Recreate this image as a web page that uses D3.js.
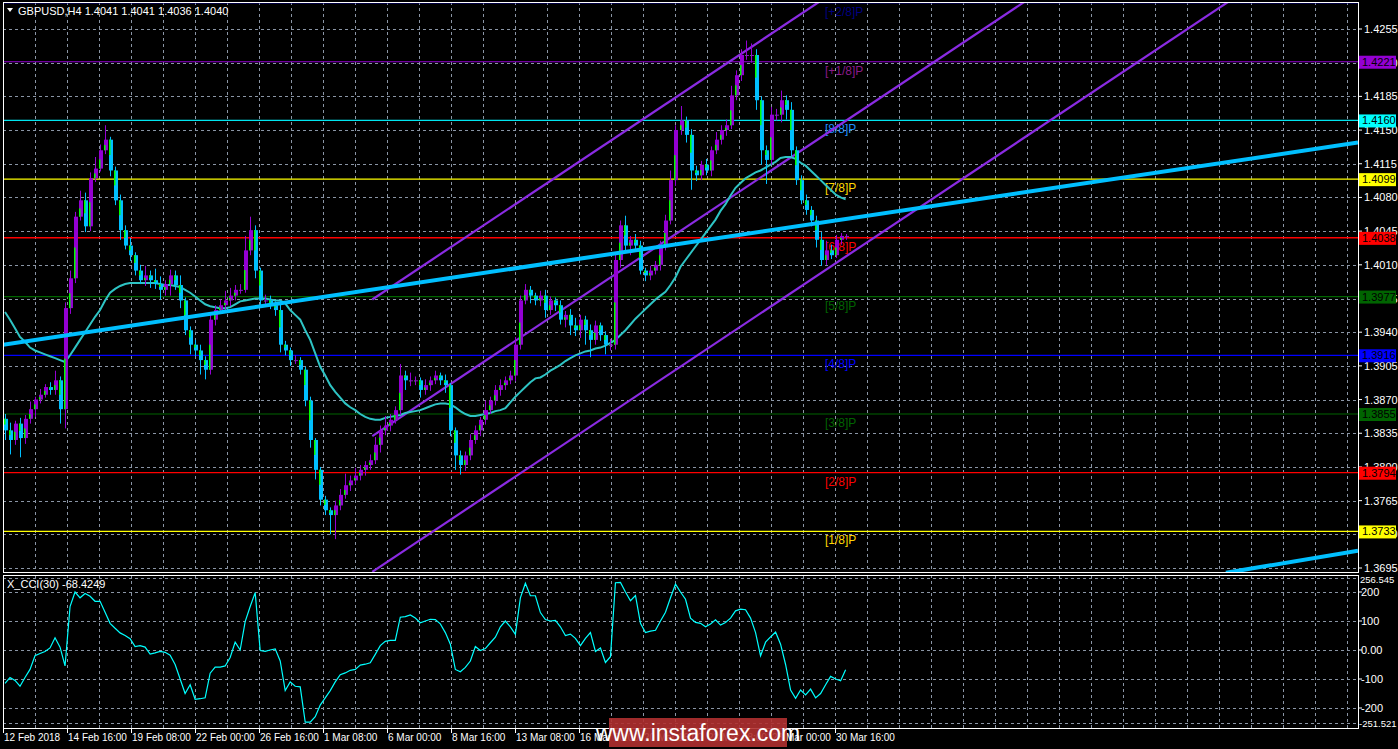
<!DOCTYPE html>
<html><head><meta charset="utf-8">
<script src="https://cdn.jsdelivr.net/npm/d3@7"></script>
<style>body{margin:0;background:#000}svg{display:block}text{font-family:"Liberation Sans",Arial,sans-serif}</style>
</head><body><svg id="c" width="1398" height="749"></svg>
<script>
// ---- data (prices in pips = price*10000) ----
const closesPips=[13838,13828,13845,13830,13850,13860,13870,13875,13883,13880,
13890,13860,13965,13996,14060,14077,14050,14100,14110,14129,
14140,14108,14077,14046,14030,14020,14004,13994,13999,13994,
13990,13984,13990,13999,13989,13973,13942,13927,13921,13911,
13901,13953,13963,13968,13973,13978,13984,13984,14025,14046,
14004,13973,13973,13968,13963,13927,13921,13911,13911,13901,
13869,13828,13797,13766,13755,13750,13760,13771,13781,13786,
13791,13797,13802,13807,13823,13838,13843,13849,13859,13895,
13890,13890,13890,13880,13885,13890,13895,13890,13885,13838,
13812,13802,13812,13828,13838,13849,13859,13869,13880,13885,
13890,13895,13927,13973,13984,13978,13973,13978,13963,13973,
13968,13953,13958,13947,13942,13953,13942,13932,13947,13937,
13927,13927,14015,14051,14030,14036,14030,14004,13999,14004,
14010,14030,14056,14098,14150,14160,14145,14108,14103,14114,
14108,14129,14140,14150,14155,14186,14207,14228,14228,14228,
14181,14129,14119,14166,14166,14181,14171,14129,14098,14077,
14067,14056,14036,14015,14025,14020,14036,14040,14040];
const upperWick=[5,8,3,6,4,8,3,6,3,5,10,4,6,8,5,10,8,6,12,6,15,3,4,6,5,8,3,6,10,5,12,8,4,6,5,10,3,4,5,6,
4,8,5,6,10,8,5,6,15,14,5,3,6,5,4,10,4,3,5,3,3,4,2,3,4,3,5,6,12,5,8,5,4,6,8,5,10,6,4,12,
5,8,4,3,6,4,5,3,6,2,3,5,4,6,5,3,10,4,5,6,4,5,8,5,6,4,3,5,6,4,3,5,4,6,8,5,4,6,5,3,
4,6,8,5,10,4,6,5,3,5,4,5,6,10,5,15,4,6,5,4,6,4,8,5,6,10,5,6,15,12,6,4,5,8,6,10,5,8,4,5,6,4,5,8,10,6,5,3,2];
const lowerWick=[10,15,5,20,6,5,8,4,3,5,5,15,20,6,5,4,6,5,4,3,4,6,5,10,4,6,5,4,6,8,5,10,6,12,5,8,5,10,6,15,
10,5,6,4,5,6,5,4,3,5,8,6,5,4,6,8,5,6,4,5,6,8,10,6,5,20,25,5,4,6,4,5,6,5,4,8,5,6,4,5,
10,6,5,8,5,6,4,5,8,6,15,10,6,5,4,6,5,4,5,6,5,4,6,5,4,8,5,6,8,5,6,5,8,10,6,8,15,18,5,6,
10,6,5,8,6,10,5,4,6,5,4,6,5,4,6,5,8,20,6,5,5,6,4,5,6,4,5,6,5,8,10,15,25,5,6,8,10,6,5,4,5,6,8,6,5,4,3,5,4];
const maPips=[13961,13953,13944,13935,13930,13924,13921,13919,13917,13915,13913,13911,13909,13916,13924,13932,13940,13948,13956,13963,
13973,13981,13985,13988,13990,13991,13991,13991,13991,13991,13991,13990,13989,13989,13988,13987,13984,13981,13977,13973,
13969,13967,13966,13965,13965,13966,13969,13972,13973,13974,13975,13975,13975,13974,13973,13973,13970,13963,13958,13953,
13942,13932,13918,13904,13895,13885,13878,13872,13866,13862,13859,13855,13852,13850,13849,13849,13851,13852,13853,13854,
13856,13857,13858,13859,13861,13863,13865,13866,13866,13865,13862,13858,13855,13853,13853,13854,13855,13856,13858,13859,
13861,13867,13873,13878,13883,13888,13892,13893,13896,13900,13903,13906,13910,13913,13916,13918,13920,13921,13923,13924,
13926,13929,13932,13937,13942,13948,13954,13959,13964,13969,13974,13978,13982,13989,13997,14008,14015,14022,14029,14036,
14043,14050,14057,14066,14073,14082,14090,14095,14100,14103,14106,14108,14111,14114,14117,14121,14122,14122,14120,14116,
14113,14108,14103,14098,14093,14088,14083,14080,14078];
const cciValues=[-115,-95,-105,-125,-95,-67,-20,-12,-5,7,42,10,-55,150,200,180,195,185,168,168,
130,92,75,59,50,39,12,15,10,-14,-10,-5,-8,-18,-50,-100,-150,-120,-170,-168,
-165,-80,-59,-59,-55,-26,27,0,98,150,198,-2,-5,0,4,-38,-140,-110,-125,-127,
-249,-249,-230,-190,-165,-140,-110,-85,-79,-70,-67,-52,-49,-44,-15,15,30,33,33,113,
115,121,110,94,100,106,105,90,60,20,-67,-75,-60,-38,12,-2,5,25,44,80,
100,80,54,180,230,187,187,129,105,100,102,80,50,55,40,15,40,60,-5,7,
-43,-23,232,233,200,170,188,92,60,65,68,100,130,180,227,200,175,110,95,92,
80,90,104,86,95,110,135,141,139,110,60,-20,27,45,62,20,-50,-138,-167,-138,
-155,-135,-165,-150,-120,-91,-100,-106,-68];
const firstOpen=1.3850;
const priceTicks=[1.4255,1.4220,1.4185,1.4150,1.4115,1.4080,1.4045,1.4010,1.3975,1.3940,1.3905,1.3870,1.3835,1.3800,1.3765,1.3730,1.3695];
const cciTicks=[200,100,0,-100,-200];
const cciExtremes=[256.545,-251.521];
const dateLabels=["12 Feb 2018","14 Feb 16:00","19 Feb 08:00","22 Feb 00:00","26 Feb 16:00","1 Mar 08:00","6 Mar 00:00","8 Mar 16:00","13 Mar 08:00","16 Mar 00:00","20 Mar 16:00","23 Mar 08:00","28 Mar 00:00","30 Mar 16:00"];
const murreyNames=["[+2/8]P","[+1/8]P","[8/8]P","[7/8]P","[6/8]P","[5/8]P","[4/8]P","[3/8]P","[2/8]P","[1/8]P"];
const murreyLevels=[1.4282,1.4221,1.4160,1.4099,1.4038,1.3977,1.3916,1.3855,1.3794,1.3733];
const murreyColors=["#000080","#9400d3","#00e5ee","#ffff00","#ff0000","#006400","#0000ff","#006400","#ff0000","#ffff00"];
const murreyText=["#000080","#8b1a8b","#1e90ff","#ffd700","#ff0000","#006400","#0000ff","#006400","#ff0000","#ffd700"];
const trendMain=[[-0.4,1.3927],[270.4,1.4137]];
const trendLow=[[244,1.3690],[270.4,1.3713]];
const channels=[[[73.4,1.3974],[270.4,1.4656]],[[73.4,1.3832],[270.4,1.4514]],[[73.4,1.3691],[270.4,1.4373]]];

// ---- build ----
const closes=closesPips.map(v=>v/1e4);
const bars=closes.map((c,i)=>{const o=i?closes[i-1]:firstOpen;return{i,o,c,h:Math.max(o,c)+upperWick[i]/1e4,l:Math.min(o,c)-lowerWick[i]/1e4};});
const svg=d3.select("#c");
const L=3,R=1358,T=2,B=572,CT=575,CB=728;
const x=d3.scaleLinear().domain([-0.4,270.4]).range([L,R]);
const xt=d3.scaleLinear().domain([0,1]).range([L,L+64]);
const y=d3.scaleLinear().domain([1.3695,1.4255]).range([568,29]);
const yc=d3.scaleLinear().domain([-200,200]).range([708,592]);
const defs=svg.append("defs");
defs.append("clipPath").attr("id","cm").append("rect").attr("x",L).attr("y",T).attr("width",R-L).attr("height",B-T);
defs.append("clipPath").attr("id","cc").append("rect").attr("x",L).attr("y",CT).attr("width",R-L).attr("height",CB-CT);
const grid="#8a95a5";
const gv=svg.append("g");
for(let k=0;k<43;k++){const gx=L+32*k; if(gx>=R)break;
 [[T,B],[CT,CB]].forEach(([a,b])=>gv.append("line").attr("x1",gx+0.5).attr("x2",gx+0.5).attr("y1",a).attr("y2",b).attr("stroke",grid).attr("stroke-dasharray","3,3"));}
const m=svg.append("g").attr("clip-path","url(#cm)");
priceTicks.forEach(p=>m.append("line").attr("x1",L).attr("x2",R).attr("y1",Math.round(y(p))+0.5).attr("y2",Math.round(y(p))+0.5).attr("stroke",grid).attr("stroke-dasharray","3,3"));
const c=svg.append("g").attr("clip-path","url(#cc)");
cciTicks.concat([250,-250]).forEach(v=>c.append("line").attr("x1",L).attr("x2",R).attr("y1",Math.round(yc(v))+0.5).attr("y2",Math.round(yc(v))+0.5).attr("stroke",grid).attr("stroke-dasharray","3,3"));
murreyLevels.forEach((p,k)=>{m.append("line").attr("x1",L).attr("x2",R).attr("y1",y(p)).attr("y2",y(p)).attr("stroke",murreyColors[k]).attr("stroke-width",k===4?1.5:1.2);
 m.append("text").attr("x",825).attr("y",y(p)+13).attr("fill",murreyText[k]).attr("font-size",12).text(murreyNames[k]);});
const ln=d3.line().x(d=>x(d[0])).y(d=>y(d[1]));
channels.forEach(ch=>m.append("path").attr("d",ln(ch)).attr("stroke","#8a2be2").attr("stroke-width",2.2).attr("fill","none"));
m.append("path").attr("d",d3.line().x((d,i)=>x(i)).y(d=>y(d/1e4))(maPips)).attr("stroke","#2ec4c4").attr("stroke-width",2).attr("fill","none");
const cg=m.append("g");
bars.forEach(b=>{const bull=b.c>=b.o,col=bull?"#9400d3":"#00bfff",cx=Math.round(x(b.i));
 cg.append("line").attr("x1",cx+0.5).attr("x2",cx+0.5).attr("y1",y(b.h)).attr("y2",y(b.l)).attr("stroke",col);
 const top=y(Math.max(b.o,b.c)),bot=y(Math.min(b.o,b.c)),h=Math.max(1,bot-top);
 cg.append("rect").attr("x",cx-1).attr("y",top).attr("width",4).attr("height",h).attr("fill",col);
 cg.append("rect").attr("x",cx-1).attr("y",bull?top+h*0.5:top).attr("width",1.5).attr("height",h*0.5).attr("fill","#00ff00");
});
[trendMain,trendLow].forEach(t=>m.append("path").attr("d",ln(t)).attr("stroke","#00bfff").attr("stroke-width",4).attr("fill","none"));
c.append("path").attr("d",d3.line().x((d,i)=>x(i)).y(d=>yc(d))(cciValues)).attr("stroke","#00ffff").attr("stroke-width",1.2).attr("fill","none");
svg.append("rect").attr("x",L+0.5).attr("y",T+0.5).attr("width",R-L).attr("height",B-T).attr("fill","none").attr("stroke","#fff");
svg.append("rect").attr("x",L+0.5).attr("y",CT+0.5).attr("width",R-L).attr("height",CB-CT).attr("fill","none").attr("stroke","#fff");
const ra=svg.append("g").attr("font-size",11).attr("fill","#fff");
priceTicks.forEach(p=>{ra.append("line").attr("x1",R).attr("x2",R+4).attr("y1",y(p)).attr("y2",y(p)).attr("stroke","#fff");
 ra.append("text").attr("x",R+6).attr("y",y(p)+4).text(p.toFixed(4));});
murreyLevels.forEach((p,k)=>{if(k===0)return;const yy=y(p);
 ra.append("rect").attr("x",R+1).attr("y",yy-6).attr("width",37).attr("height",13).attr("fill",murreyColors[k]==="#00e5ee"?"#00ffff":murreyColors[k]);
 ra.append("text").attr("x",R+4).attr("y",yy+4).attr("fill","#000").text(p.toFixed(4));});
cciTicks.forEach(v=>{ra.append("line").attr("x1",R).attr("x2",R+4).attr("y1",yc(v)).attr("y2",yc(v)).attr("stroke","#fff");
 ra.append("text").attr("x",R+3).attr("y",yc(v)+4).text(v===0?"0.00":v);});
ra.append("text").attr("x",R+2).attr("y",CT+8).attr("font-size",9.5).text(cciExtremes[0]);
ra.append("text").attr("x",R+1).attr("y",CB-1).attr("font-size",9.5).text(cciExtremes[1]);
const ba=svg.append("g").attr("font-size",10).attr("fill","#fff");
dateLabels.forEach((d,k)=>{const xx=xt(k);ba.append("line").attr("x1",xx+0.5).attr("x2",xx+0.5).attr("y1",CB).attr("y2",CB+5).attr("stroke","#fff");
 ba.append("text").attr("x",xx+1).attr("y",741).text(d);});
svg.append("path").attr("d","M7,8 L13,8 L10,12 Z").attr("fill","#fff");
svg.append("text").attr("x",18).attr("y",15).attr("font-size",11).attr("fill","#fff").text("GBPUSD,H4  1.4041 1.4041 1.4036 1.4040");
svg.append("text").attr("x",7).attr("y",588).attr("font-size",11).attr("fill","#fff").text("X_CCI(30) -68.4249");
svg.append("rect").attr("x",609).attr("y",718).attr("width",178).attr("height",29).attr("fill","#b03030").attr("opacity",0.9);
svg.append("text").attr("x",698).attr("y",741).attr("text-anchor","middle").attr("font-size",23).attr("fill","#fff").text("www.instaforex.com");
</script></body></html>
